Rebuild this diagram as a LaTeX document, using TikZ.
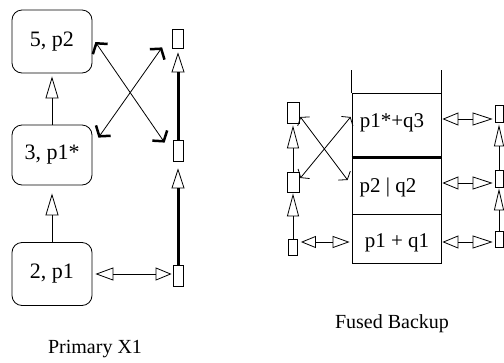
\documentclass[tikz,border=0pt]{standalone}
\usepackage{fontspec}
\setmainfont{Liberation Serif}
\usetikzlibrary{arrows.meta,calc}
\begin{document}
\begin{tikzpicture}[x=1pt,y=-1pt,line width=0.8pt,
  rbox/.style={draw,rounded corners=10pt,minimum width=80pt,minimum height=63pt,inner sep=0pt,font=\fontsize{22}{26}\selectfont},
  srect/.style={draw,inner sep=0pt,fill=white},
  cell/.style={draw,inner sep=0pt,minimum width=89pt},
  stxt/.style={inner sep=0pt,font=\fontsize{21}{25}\selectfont},
  lbl/.style={inner sep=0pt,font=\fontsize{20}{24}\selectfont},
  upL/.style={-{Triangle[open,length=22pt,width=13pt,line width=0.8pt]}},
  upT/.style={line width=3pt,-{Triangle[open,length=20pt,width=13pt,line width=0.8pt]}},
  upF/.style={-{Triangle[open,length=23pt,width=12pt,line width=0.8pt]}},
  upR/.style={-{Triangle[open,length=22pt,width=10pt,line width=0.8pt]}},
  dtriL/.style={{Triangle[open,length=18pt,width=13pt,line width=0.8pt]}-{Triangle[open,length=16pt,width=13pt,line width=0.8pt]}},
  dtriF/.style={{Triangle[open,length=15pt,width=12pt,line width=0.8pt]}-{Triangle[open,length=17pt,width=12pt,line width=0.8pt]}},
  dtriR/.style={{Triangle[open,length=16pt,width=13pt,line width=0.8pt]}-{Triangle[open,length=20pt,width=13pt,line width=0.8pt]}},
  tbarb/.style={{Straight Barb[length=7pt,width=18pt,line width=2.5pt]}-{Straight Barb[length=7pt,width=18pt,line width=2.5pt]}},
  fbarb/.style={{Straight Barb[length=5pt,width=15pt,line width=0.8pt]}-{Straight Barb[length=5pt,width=15pt,line width=0.8pt]}}
]
\fill[white] (0,0) rectangle (504,362);
\useasboundingbox (0,0) rectangle (504,362);

% ---------- Primary X1 ----------
\node[rbox] (b5) at (52,41.5) {5, p2};
\node[rbox,minimum height=60pt] (b3) at (52,155) {3, p1*};
\node[rbox] (b2) at (52,274) {2, p1};
\node[srect,minimum width=11pt,minimum height=19pt] (pr3) at (178,38.5) {};
\node[srect,minimum width=10pt,minimum height=21pt] (pr2) at (178,150.5) {};
\node[srect,minimum width=10pt,minimum height=21pt] (pr1) at (178,276) {};

\draw[upL] (b3.north) -- ([yshift=-3pt]b5.south);
\draw[upL] (b2.north) -- ([yshift=-8pt]b3.south);
\draw[upT] (pr1.north) -- ([yshift=-7pt]pr2.south);
\draw[upT] (pr2.north) -- ([yshift=-4pt]pr3.south);
\draw[dtriL] ([xshift=3pt]b2.east) -- ([xshift=-1pt]b2.east -| pr1.west);
\draw[tbarb] ($(b5.east)+(3,0.5)$) -- ($(pr2.north west)+(-8,3)$);
\draw[tbarb] ($(b3.north east)+(6,13)$) -- ($(pr3.south west)+(-10,-1)$);

\node[lbl] (lp) at (95,349) {Primary X1};

% ---------- Fused Backup ----------
\node[cell,minimum height=64pt] (c3) at (396.5,125) {};
\node[cell,minimum height=57pt] (c2) at (396.5,185.5) {};
\node[cell,minimum height=49pt] (c1) at (396.5,238.5) {};
\node[stxt] (t3) at (392,123) {p1*+q3};
\node[stxt] (t2) at (388,187) {p2 | q2};
\node[stxt] (t1) at (397,243) {p1 + q1};
\draw[line width=3pt] (c3.south west) -- (c3.south east);
\draw (c3.north west) -- ++(0,-23);
\draw (c3.north east) -- ++(0,-23);

\node[srect,minimum width=12pt,minimum height=21pt] (lr3) at (293,112.5) {};
\node[srect,minimum width=12pt,minimum height=20pt] (lr2) at (293,182) {};
\node[srect,minimum width=9pt,minimum height=16pt] (lr1) at (293,247) {};
\draw[upF] (lr1.north) -- ([yshift=-1pt]lr2.south);
\draw[upF] (lr2.north) -- ([yshift=-2pt]lr3.south);
\draw[dtriF] ($(lr1.east)+(3,-5)$) -- ($(c1.west)+(-2,3.5)$);
\draw[fbarb] ($(lr3.east)+(1,4.5)$) -- ($(c2.west)+(-4,-5.5)$);
\draw[fbarb] ($(lr2.east)+(1,-4)$) -- ($(c3.west)+(-1,-8)$);

\node[srect,minimum width=8pt,minimum height=17pt] (rr3) at (499,113.5) {};
\node[srect,minimum width=8pt,minimum height=17pt] (rr2) at (499,178.5) {};
\node[srect,minimum width=8pt,minimum height=16pt] (rr1) at (499,239) {};
\draw[upR] (rr1.north) -- ([yshift=-1pt]rr2.south);
\draw[upR] (rr2.north) -- ([yshift=-2pt]rr3.south);
\draw[dtriR] ($(c3.east)+(1,-6)$) -- ($(rr3.west |- c3.east)+(-2,-6)$);
\draw[dtriR] ($(c2.east)+(1,-2.5)$) -- ($(rr2.west |- c2.east)+(-2,-2.5)$);
\draw[dtriR] ($(c1.east)+(1,3.5)$) -- ($(rr1.west |- c1.east)+(-2,3.5)$);

\node[lbl] (lf) at (392,324) {Fused Backup};
\end{tikzpicture}
\end{document}
